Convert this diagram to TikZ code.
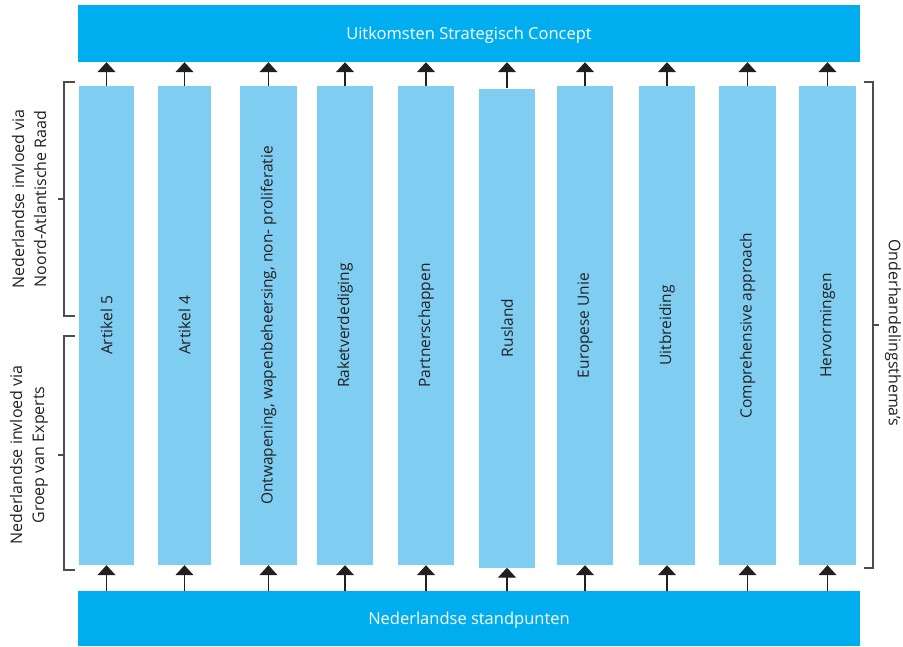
\documentclass[tikz,border=0pt]{standalone}
\usepackage{fontspec}
\setmainfont{Open Sans}
\usetikzlibrary{arrows.meta}

\definecolor{barblue}{HTML}{00AEEF}
\definecolor{colblue}{HTML}{7FCEF2}
\definecolor{inkgray}{HTML}{231F20}

\tikzset{
  bar/.style={fill=barblue, text=white, minimum width=782pt, inner sep=0pt,
    text depth=0pt, font=\fontsize{16.5}{19}\selectfont},
  col/.style={fill=colblue, rotate=90, minimum width=479pt, inner sep=0pt,
    text=inkgray, font=\fontsize{15.5}{18}\selectfont},
  up/.style={-{Triangle[width=18pt,length=10pt]}, line width=1.4pt, draw=inkgray},
  bracket/.style={line width=1.3pt, draw=inkgray!80},
  side/.style={align=center, text=inkgray, inner sep=0pt,
    font=\fontsize{16}{22}\selectfont}
}

\begin{document}
\begin{tikzpicture}[x=1pt, y=1pt]
    \useasboundingbox (0,0) rectangle (903,-646);

    % Bars at top and bottom
    \node (uitkomsten) [bar, minimum height=57pt] at (469,-33.5) {Uitkomsten Strategisch Concept};
    \node (standpunten) [bar, minimum height=55pt] at (469,-618.5) {Nederlandse standpunten};

    % Columns with the themes
    \node (art5) [col, minimum height=55pt] at (106.5,-325.5) {Artikel 5};
    \node (art4) [col, minimum height=53pt] at (184.5,-325.5) {Artikel 4};
    \node (ontw) [col, minimum height=57pt] at (268.5,-325.5) {Ontwapening, wapenbeheersing, non- proliferatie};
    \node (raket) [col, minimum height=56pt] at (345,-325.5) {Raketverdediging};
    \node (partner) [col, minimum height=56pt] at (426,-325.5) {Partnerschappen};
    \node (rusland) [col, minimum height=56pt] at (507,-328) {Rusland};
    \node (eu) [col, minimum height=56pt] at (585,-325.5) {Europese Unie};
    \node (uitbr) [col, minimum height=56pt] at (667,-325.5) {Uitbreiding};
    \node (compr) [col, minimum height=57pt] at (747.5,-325.5) {Comprehensive approach};
    \node (herv) [col, minimum height=57pt] at (827.5,-325.5) {Hervormingen};

    % Arrows from the bottom bar into the columns and on to the top bar
    \foreach \c in {art5,art4,ontw,raket,partner,rusland,eu,uitbr,compr,herv} {
        \draw[up] (\c.east) -- (\c.east |- uitkomsten.south);
        \draw[up] (\c.west |- standpunten.north) -- (\c.west);
    }

    % Brackets with side labels
    \draw[bracket] (75,-82) -- (64,-82) -- (64,-316) -- (75,-316);
    \draw[bracket] (64,-199) -- (58,-199);
    \draw[bracket] (75,-336) -- (64,-336) -- (64,-570) -- (75,-570);
    \draw[bracket] (64,-455) -- (58,-455);
    \draw[bracket] (864,-82) -- (873,-82) -- (873,-568) -- (864,-568);
    \draw[bracket] (873,-325) -- (879,-325);

    \node (raad) [side, rotate=90] at (29,-199) {Nederlandse invloed via\\Noord-Atlantische Raad};
    \node (experts) [side, rotate=90] at (29,-455) {Nederlandse invloed via\\Groep van Experts};
    \node (thema) [side, rotate=-90] at (893,-333) {Onderhandelingsthema's};
\end{tikzpicture}
\end{document}
